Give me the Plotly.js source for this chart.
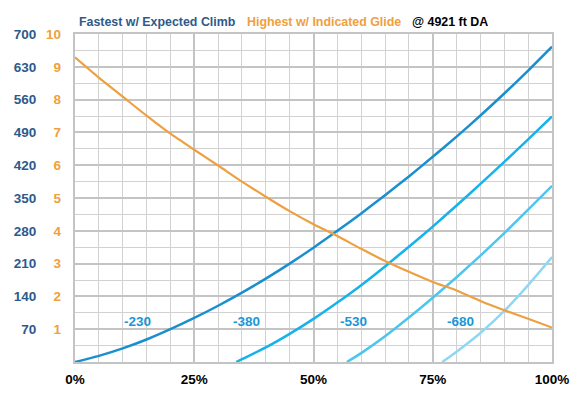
<!DOCTYPE html>
<html>
<head>
<meta charset="utf-8">
<script src="https://cdn.plot.ly/plotly-3.0.1.min.js"></script>
<style>html,body{margin:0;padding:0;background:#fff;}#chart{width:584px;height:397px;}</style>
</head>
<body>
<div id="chart"></div>
<script>
// Glide (orange, right-hand 0-10 scale) vs. power fraction
const glideX = [0,0.05,0.10,0.15,0.20,0.25,0.30,0.35,0.40,0.45,0.50,0.55,0.60,0.65,0.70,0.75,0.80,0.85,0.90,0.95,1.00];
const glideY = [9.29,8.67,8.09,7.51,6.96,6.47,5.99,5.50,5.04,4.60,4.20,3.84,3.45,3.08,2.75,2.44,2.18,1.86,1.58,1.32,1.05];

// Climb curves (blue, 0-700 scale)
const c230X = [0,0.05,0.10,0.15,0.20,0.25,0.30,0.35,0.40,0.45,0.50,0.55,0.60,0.65,0.70,0.75,0.80,0.85,0.90,0.95,1.00];
const c230Y = [0,13,29,48,70,94,120,148,178,210,244,280,317,356,396,438,481,526,573,622,673];
const c380X = [0.338,0.35,0.40,0.45,0.50,0.55,0.60,0.65,0.70,0.75,0.80,0.85,0.90,0.95,1.00];
const c380Y = [0,6,31,60,92,127,164,204,246,289,334,380,427,475,524];
const c530X = [0.57,0.60,0.65,0.70,0.75,0.80,0.85,0.90,0.95,1.00];
const c530Y = [0,19,55,95,137,181,227,275,325,376];
const c680X = [0.77,0.80,0.85,0.90,0.95,1.00];
const c680Y = [0,22,62,109,164,224];

const curveNames = ['-230','-380','-530','-680'];
const xTickVals = [0,0.25,0.5,0.75,1];
const xTickText = ['0%','25%','50%','75%','100%'];
const yTickVals = [70,140,210,280,350,420,490,560,630,700];
const y2TickVals = [1,2,3,4,5,6,7,8,9,10];

const FONT = 'Liberation Sans, Arial, Helvetica, sans-serif';
const blueDark = '#2e5a8a';
const orange = '#f0a03c';
const curveColors = ['#1a8fcf','#16b2ea','#4cc5ef','#8ed8f5'];

const traces = [
  {x: glideX, y: glideY, yaxis: 'y2', mode: 'lines', line: {color: '#eea040', width: 2.2, shape: 'spline', smoothing: 0.6}, hoverinfo: 'skip'},
  {x: c230X, y: c230Y, mode: 'lines', name: curveNames[0], line: {color: curveColors[0], width: 2.5, shape: 'spline', smoothing: 0.6}},
  {x: c380X, y: c380Y, mode: 'lines', name: curveNames[1], line: {color: curveColors[1], width: 2.5, shape: 'spline', smoothing: 0.6}},
  {x: c530X, y: c530Y, mode: 'lines', name: curveNames[2], line: {color: curveColors[2], width: 2.5, shape: 'spline', smoothing: 0.6}},
  {x: c680X, y: c680Y, mode: 'lines', name: curveNames[3], line: {color: curveColors[3], width: 2.5, shape: 'spline', smoothing: 0.6}}
];

const labelX = [0.132, 0.359, 0.583, 0.808];
const annotations = curveNames.map((n, i) => ({
  x: labelX[i], y: 87, xref: 'x', yref: 'y', text: n, showarrow: false,
  font: {family: FONT, size: 13.5, color: '#1a96d6', weight: 'bold'},
  xanchor: 'center', yanchor: 'middle'
}));
const titleParts = [
  {text: 'Fastest w/ Expected Climb', x: 0.005, color: blueDark},
  {text: 'Highest w/ Indicated Glide', x: 0.3556, color: orange},
  {text: '@ 4921 ft DA', x: 0.703, color: '#000'}
];
titleParts.forEach(p => annotations.push({
  x: p.x, y: 1.0376, xref: 'paper', yref: 'paper', text: p.text, showarrow: false,
  xanchor: 'left', yanchor: 'middle',
  font: {family: FONT, size: 12.4, color: p.color, weight: 'bold'}
}));

const layout = {
  width: 584, height: 397,
  margin: {l: 75, r: 31.5, t: 34, b: 35, pad: 0},
  paper_bgcolor: '#fff', plot_bgcolor: '#fff',
  showlegend: false,
  font: {family: FONT},
  xaxis: {
    range: [0, 1], tickvals: xTickVals, ticktext: xTickText,
    showgrid: true, gridcolor: '#c4c4c4', gridwidth: 2,
    minor: {dtick: 0.05, showgrid: true, gridcolor: '#d2d2d2', gridwidth: 1},
    showline: true, linecolor: '#c4c4c4', linewidth: 2, mirror: true,
    zeroline: false, ticks: '', ticklabelstandoff: 4,
    tickfont: {family: FONT, size: 13.5, color: '#000', weight: 'bold'}
  },
  yaxis: {
    range: [0, 700], tickvals: yTickVals,
    showgrid: true, gridcolor: '#c4c4c4', gridwidth: 2,
    minor: {dtick: 35, showgrid: true, gridcolor: '#d2d2d2', gridwidth: 1},
    showline: true, linecolor: '#c4c4c4', linewidth: 2, mirror: true,
    zeroline: false, ticks: '', ticklabelstandoff: 34,
    tickfont: {family: FONT, size: 13.5, color: blueDark, weight: 'bold'}
  },
  yaxis2: {
    range: [0, 10], tickvals: y2TickVals, overlaying: 'y', side: 'left',
    showgrid: false, zeroline: false, showline: false, ticks: '', ticklabelstandoff: 13,
    tickfont: {family: FONT, size: 13.5, color: orange, weight: 'bold'}
  },
  annotations: annotations
};

Plotly.newPlot('chart', traces, layout, {staticPlot: true, displayModeBar: false});
</script>
</body>
</html>
